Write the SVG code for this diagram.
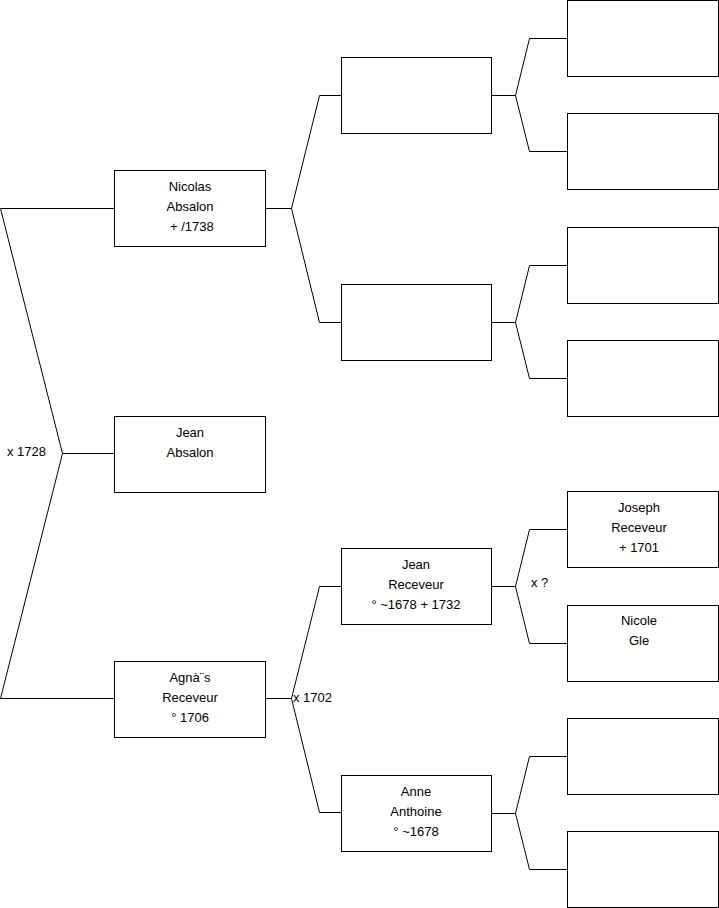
<svg xmlns="http://www.w3.org/2000/svg" width="719" height="908" viewBox="0 0 719 908">
<style>
.box{fill:#fff;stroke:#000;stroke-width:1}
.ln{fill:none;stroke:#000;stroke-width:1}
text{font-family:"Liberation Sans",Arial,sans-serif;font-size:13px;fill:#000}
.c{text-anchor:middle}
</style>
<rect width="719" height="908" fill="#fff"/>
<g id="connectors">
<path class="ln" d="M0.5,208.5 H114.5 M0.5,208.5 L62.5,453.5 L0.5,698.5 H114.5 M62.5,453.5 H114.5"/>
<path class="ln" d="M265.5,208.5 H291.5 M319.5,95.5 L291.5,208.5 L319.5,322.5 M319.5,95.5 H341.5 M319.5,322.5 H341.5"/>
<path class="ln" d="M265.5,698.5 H291.5 M319.5,586.5 L291.5,698.5 L319.5,812.5 M319.5,586.5 H341.5 M319.5,812.5 H341.5"/>
<path class="ln" d="M491.5,95.5 H515.5 M529.5,38.5 L515.5,95.5 L529.5,151.5 M529.5,38.5 H567.5 M529.5,151.5 H567.5"/>
<path class="ln" d="M491.5,322.5 H515.5 M529.5,265.5 L515.5,322.5 L529.5,378.5 M529.5,265.5 H567.5 M529.5,378.5 H567.5"/>
<path class="ln" d="M491.5,586.5 H515.5 M529.5,529.5 L515.5,586.5 L529.5,643.5 M529.5,529.5 H567.5 M529.5,643.5 H567.5"/>
<path class="ln" d="M491.5,813.5 H515.5 M529.5,756.5 L515.5,813.5 L529.5,869.5 M529.5,756.5 H567.5 M529.5,869.5 H567.5"/>
<text x="7" y="456">x 1728</text>
<text x="293" y="702">x 1702</text>
<text x="531" y="587">x ?</text>
</g>
<g id="nicolas"><rect class="box" x="114.5" y="170.5" width="151" height="76"/>
<text class="c" x="190" y="191">Nicolas</text><text class="c" x="190" y="211">Absalon</text><text class="c" x="190" y="231" xml:space="preserve"> + /1738</text></g>
<g id="jean-absalon"><rect class="box" x="114.5" y="416.5" width="151" height="76"/>
<text class="c" x="190" y="437">Jean</text><text class="c" x="190" y="457">Absalon</text></g>
<g id="agnes"><rect class="box" x="114.5" y="661.5" width="151" height="76"/>
<text class="c" x="190" y="682">Agnà¨s</text><text class="c" x="190" y="702">Receveur</text><text class="c" x="190" y="722">° 1706</text></g>
<g id="p-nicolas-father"><rect class="box" x="341.5" y="57.5" width="150" height="76"/></g>
<g id="p-nicolas-mother"><rect class="box" x="341.5" y="284.5" width="150" height="76"/></g>
<g id="jean-receveur"><rect class="box" x="341.5" y="548.5" width="150" height="76"/>
<text class="c" x="416" y="569">Jean</text><text class="c" x="416" y="589">Receveur</text><text class="c" x="416" y="609">° ~1678 + 1732</text></g>
<g id="anne"><rect class="box" x="341.5" y="775.5" width="150" height="76"/>
<text class="c" x="416" y="796">Anne</text><text class="c" x="416" y="816">Anthoine</text><text class="c" x="416" y="836">° ~1678</text></g>
<g id="g1"><rect class="box" x="567.5" y="0.5" width="151" height="76"/></g>
<g id="g2"><rect class="box" x="567.5" y="113.5" width="151" height="76"/></g>
<g id="g3"><rect class="box" x="567.5" y="227.5" width="151" height="76"/></g>
<g id="g4"><rect class="box" x="567.5" y="340.5" width="151" height="76"/></g>
<g id="joseph"><rect class="box" x="567.5" y="491.5" width="151" height="76"/>
<text class="c" x="639" y="512">Joseph</text><text class="c" x="639" y="532">Receveur</text><text class="c" x="639" y="552">+ 1701</text></g>
<g id="nicole"><rect class="box" x="567.5" y="605.5" width="151" height="76"/>
<text class="c" x="639" y="625">Nicole</text><text class="c" x="639" y="645">Gle</text></g>
<g id="g7"><rect class="box" x="567.5" y="718.5" width="151" height="76"/></g>
<g id="g8"><rect class="box" x="567.5" y="831.5" width="151" height="76"/></g>
</svg>
